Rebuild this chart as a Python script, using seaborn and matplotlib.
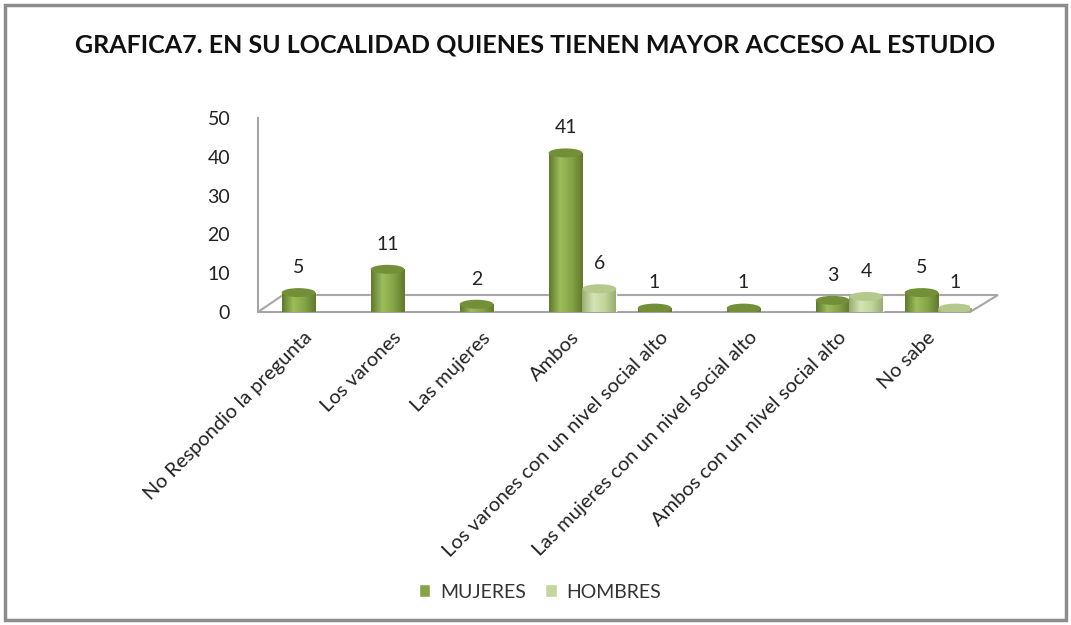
import numpy as np
import pandas as pd
import matplotlib
matplotlib.use("Agg")
import matplotlib.pyplot as plt
import matplotlib.transforms as mtransforms
import seaborn as sns
from matplotlib.patches import Ellipse, Polygon, Rectangle
from matplotlib.colors import LinearSegmentedColormap

# ==============================
# DATA
# ==============================
categorias = ["No Respondio la pregunta", "Los varones", "Las mujeres", "Ambos",
              "Los varones con un nivel social alto", "Las mujeres con un nivel social alto",
              "Ambos con un nivel social alto", "No sabe"]
mujeres = [5, 11, 2, 41, 1, 1, 3, 5]
hombres = [0, 0, 0, 6, 0, 0, 4, 1]
series = ["MUJERES", "HOMBRES"]
titulo = "GRAFICA7. EN SU LOCALIDAD QUIENES TIENEN MAYOR ACCESO AL ESTUDIO"

df = pd.DataFrame({
    "Categoria": categorias * 2,
    "Sexo": [series[0]] * len(categorias) + [series[1]] * len(categorias),
    "Valor": mujeres + hombres,
})

colores = {"MUJERES": "#86A447", "HOMBRES": "#C3D69B"}
sombras = {"MUJERES": ("#5F7A2C", "#9DBD5C"), "HOMBRES": ("#98AD72", "#D4E3B5")}
tapas = {"MUJERES": "#738F38", "HOMBRES": "#B5C98C"}

# ==============================
# FIGURE
# ==============================
sns.set_style("white")
plt.rcParams["font.family"] = ["Lato", "DejaVu Sans"]

fig = plt.figure(figsize=(10.71, 6.25), dpi=100)
W, H = 1071, 625
ax = fig.add_axes([258 / W, 1 - 312 / H, 712 / W, 194 / H])

sns.barplot(data=df, x="Categoria", y="Valor", hue="Sexo", palette=colores,
            width=0.76, ax=ax, legend=False, saturation=1)

ax.set_ylim(0, 50)
ax.set_xlim(-0.646, 7.354)
ax.set_yticks(range(0, 51, 10))
ax.set_xlabel("")
ax.set_ylabel("")
ax.tick_params(axis="y", labelsize=14, colors="#222222", pad=20, length=0)
ax.tick_params(axis="x", labelsize=14.5, colors="#222222", length=0, pad=10)
ax.set_xticks(range(len(categorias)))
ax.set_xticklabels(categorias, rotation=45, ha="right", rotation_mode="anchor")
# shift labels a bit to the left, like the original
shift = mtransforms.ScaledTranslation(-12 / 100, -3 / 100, fig.dpi_scale_trans)
for t in ax.get_xticklabels():
    t.set_transform(t.get_transform() + shift)

for s in ["top", "right", "bottom"]:
    ax.spines[s].set_visible(False)
ax.spines["left"].set_color("#A6A6A6")
ax.spines["left"].set_linewidth(1.5)

# 3D floor
piso = Polygon([(0, 0), (25 / 712, 17 / 194), (740 / 712, 17 / 194), (1.0, 0)],
               closed=True, transform=ax.transAxes, facecolor="white",
               edgecolor="#A6A6A6", linewidth=1.5, clip_on=False, zorder=0.5)
ax.add_patch(piso)

# cylinder look on each bar
px_per_unit = 194 / 50
cap_h = 9 / px_per_unit
for cont, nombre, vals in zip(ax.containers, series, [mujeres, hombres]):
    dark, light = sombras[nombre]
    cmap = LinearSegmentedColormap.from_list("c", [dark, light, colores[nombre], dark])
    grad = np.linspace(0, 1, 64).reshape(1, -1)
    for bar, v in zip(cont, vals):
        if v <= 0:
            bar.set_visible(False)
            continue
        x0, w = bar.get_x(), bar.get_width()
        bar.set_zorder(2)
        im = ax.imshow(grad, cmap=cmap, aspect="auto",
                       extent=(x0, x0 + w, 0, v), zorder=2.1)
        im.set_clip_path(bar)
        ax.add_patch(Ellipse((x0 + w / 2, 0), w, cap_h, facecolor=dark,
                             edgecolor="none", zorder=1.9))
        ax.add_patch(Ellipse((x0 + w / 2, v), w, cap_h, facecolor=tapas[nombre],
                             edgecolor="none", zorder=2.2))
    labels = [str(v) if v > 0 else "" for v in vals]
    ax.bar_label(cont, labels=labels, padding=12, fontsize=14, color="#222222")

ax.set_ylim(0, 50)
ax.set_xlim(-0.646, 7.354)

fig.text(0.5, 1 - 45 / H, titulo, ha="center", va="center",
         fontsize=18, fontweight="bold", color="#111111")

handles = [Rectangle((0, 0), 1, 1, facecolor=colores[s]) for s in series]
fig.legend(handles, series, loc="center", bbox_to_anchor=(540 / W, 1 - 592 / H),
           ncol=2, frameon=False, fontsize=14, handlelength=0.6, handleheight=0.6,
           columnspacing=1.0, handletextpad=0.5, labelcolor="#333333")

fig.add_artist(Rectangle((5 / W, 5 / H), 1 - 10 / W, 1 - 10 / H,
                         transform=fig.transFigure, fill=False,
                         edgecolor="#8C8C8C", linewidth=2.5))

fig.savefig("out.png", dpi=100)
